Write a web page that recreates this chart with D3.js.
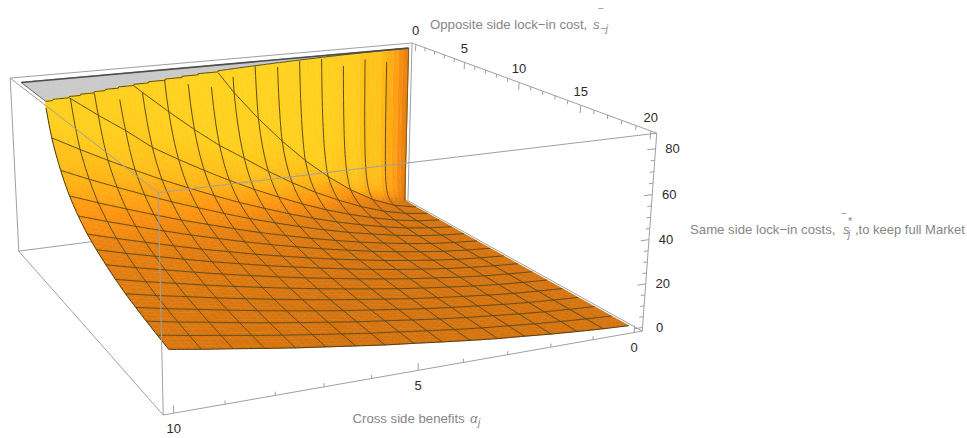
<!DOCTYPE html>
<html>
<head>
<meta charset="utf-8">
<style>
  html, body { margin: 0; background: #fff; }
  text { font-family: "Liberation Sans", sans-serif; }
</style>
<script src="https://cdn.jsdelivr.net/npm/d3@7"></script>
</head>
<body>
<div class="canvas"></div>
<script>
// values
const alphaValues = d3.range(17).map(k => k * 0.625);
const alphaTicks = d3.range(0, 11);
const lockTicks = d3.range(0, 21);
const zTicks = d3.range(0, 85, 5);
const meshAlpha = alphaValues.slice(1, 16);
const meshLock = d3.range(1, 16).map(k => k * 1.25);
const zClip = 85;

// rows of the surface: one per opposite side lock-in cost, one column per alpha
const lockRows = [1.25, 2.5, 3.75, 5, 7.5, 10, 15, 20];
const zRow125 = [0, 2.5, 7.4, 14.4, 23.1, 33.3, 45.1, 58.3, 73, 90, 106, 124, 143, 164, 186, 209, 233];
const zRow250 = [0, 1.6, 4.5, 8.6, 13.7, 19.5, 26.2, 33.7, 42, 50, 59.5, 69.8, 80.6, 92, 104, 117, 130];
const zRow375 = [0, 1.2, 3.3, 6.2, 9.7, 13.7, 18.4, 23.6, 29.2, 35.3, 41.9, 48.9, 56.3, 66, 74.7, 84, 93];
const zRow500 = [0, 1.1, 2.7, 5, 7.8, 10.9, 14.5, 18.5, 22.9, 27.5, 32.6, 38, 43.6, 49.7, 56, 62.6, 69.5];
const zRow750 = [0, 0.9, 2.1, 3.8, 5.8, 8, 10.6, 13.4, 16.5, 19.7, 23.3, 27.1, 30.9, 35.1, 39.5, 44, 48.8];
const zRow1000 = [0, 0.8, 1.8, 3.2, 4.8, 6.6, 8.7, 10.9, 13.3, 15.9, 18.6, 21.6, 24.6, 27.9, 31.3, 34.8, 38.5];
const zRow1500 = [0, 0.7, 1.5, 2.6, 3.9, 5.2, 6.7, 8.4, 10.2, 12, 14, 16.1, 18.3, 20.6, 23.1, 25.5, 28.2];
const zRow2000 = [0, 0.6, 1.4, 2.3, 3.4, 4.4, 5.7, 7.1, 8.6, 10, 11.7, 13.4, 15.1, 17, 19, 20.9, 23];
const zGrid = [zRow125, zRow250, zRow375, zRow500, zRow750, zRow1000, zRow1500, zRow2000];

// box scales, Mathematica style 2% padding
const xScale = d3.scaleLinear().domain([-0.2, 10.2]).range([0, 1]);
const yScale = d3.scaleLinear().domain([-0.4, 20.4]).range([0, 1]);
const zScale = d3.scaleLinear().domain([-1.7, 86.7]).range([0, 1]);

// camera calibration: where the box corners land on the page [x, y, z, px, py]
const cameraAnchors = [
  [0, 0, 0, 407, 201], [0, 0, 1, 413, 43],
  [0, 1, 0, 643, 331], [0, 1, 1, 656, 133],
  [1, 0, 0, 19, 251], [1, 0, 1, 10, 78],
  [1, 1, 0, 163.5, 415], [1, 1, 1, 158, 193]
];

// least squares for the 3x4 projective camera
const solveCamera = (anchors) => {
  const rows = [];
  anchors.forEach(([x, y, z, u, v]) => {
    rows.push([x, y, z, 1, 0, 0, 0, 0, -u * x, -u * y, -u * z, u]);
    rows.push([0, 0, 0, 0, x, y, z, 1, -v * x, -v * y, -v * z, v]);
  });
  const n = 11;
  const m = d3.range(n).map(i => d3.range(n + 1).map(j => d3.sum(rows, r => r[i] * r[j === n ? 11 : j])));
  for (let i = 0; i < n; i++) {
    let best = i;
    for (let r = i + 1; r < n; r++) if (Math.abs(m[r][i]) > Math.abs(m[best][i])) best = r;
    [m[i], m[best]] = [m[best], m[i]];
    for (let r = 0; r < n; r++) {
      if (r === i) continue;
      const f = m[r][i] / m[i][i];
      for (let c = i; c <= n; c++) m[r][c] -= f * m[i][c];
    }
  }
  return d3.range(n).map(i => m[i][n] / m[i][i]);
};
const cam = solveCamera(cameraAnchors);

const project = (a, s, z) => {
  const x = xScale(a), y = yScale(s), w = zScale(z);
  const d = cam[8] * x + cam[9] * y + cam[10] * w + 1;
  return [
    (cam[0] * x + cam[1] * y + cam[2] * w + cam[3]) / d,
    (cam[4] * x + cam[5] * y + cam[6] * w + cam[7]) / d
  ];
};

// reading the table: reciprocal is close to straight along the lock-in cost
const columnZ = (i, s) => {
  if (i === 0) return 0;
  if (s <= 0) return 1e5;
  if (s <= lockRows[0]) return zGrid[0][i] * lockRows[0] / s;
  const r = Math.min(d3.bisectRight(lockRows, s) - 1, lockRows.length - 2);
  const t = (s - lockRows[r]) / (lockRows[r + 1] - lockRows[r]);
  return 1 / ((1 - t) / zGrid[r][i] + t / zGrid[r + 1][i]);
};
const surfaceZ = (a, s) => {
  const k = a / 0.625;
  const i = Math.min(Math.floor(k), 15);
  const t = k - i;
  return (1 - t) * columnZ(i, s) + t * columnZ(i + 1, s);
};

// sampling, packed towards the wall at the back
const aSamples = [...d3.range(0, 6).map(i => 0.625 * Math.pow(i / 6, 2))];
alphaValues.slice(1, 16).forEach(a => aSamples.push(a, a + 0.15625, a + 0.3125, a + 0.46875));
aSamples.push(10);
const sSamples = d3.range(0, 16).map(i => 1.25 * Math.pow(i / 16, 3));
d3.range(1, 16).forEach(k => d3.range(0, 4).forEach(i => sSamples.push(1.25 * (k + i / 4))));
sSamples.push(20);

const shade = d3.scaleLinear()
  .domain([-0.5, 0, 0.12, 0.25, 0.45, 0.7, 0.95])
  .range(['#c4620a', '#d5730e', '#e57f0f', '#ff9410', '#ffb817', '#ffce1e', '#ffd520'])
  .clamp(true);

// the wall gets darker towards alpha = 0, with the bands seen in the picture
const wallAlpha = [0, 0.2, 0.4, 0.625, 0.9, 1.25, 1.6, 1.875, 2.5, 3.75, 5];
const wallLight = [0.08, 0.2, 0.35, 0.42, 0.62, 0.56, 0.76, 0.7, 0.82, 0.92, 1];
const wallScale = d3.scaleLinear().domain(wallAlpha).range(wallLight).clamp(true);

const facetColor = (a, s) => {
  const e = 0.01;
  const za = (surfaceZ(Math.min(a + e, 10), s) - surfaceZ(Math.max(a - e, 0), s)) / (2 * e) * 0.047;
  const zs = (surfaceZ(a, s + e) - surfaceZ(a, Math.max(s - e, 1e-4))) / (2 * e) * 0.094;
  const len = Math.hypot(za, zs, 1);
  return shade((-zs + 0.3 * -za) / len * wallScale(a));
};

// split a facet at the clipping plane
const clipFacet = (pts, keepBelow) => {
  const out = [];
  pts.forEach((p, i) => {
    const q = pts[(i + 1) % pts.length];
    const pIn = keepBelow ? p.z <= zClip : p.z > zClip;
    const qIn = keepBelow ? q.z <= zClip : q.z > zClip;
    if (pIn) out.push(p);
    if (pIn !== qIn) {
      const t = (zClip - p.z) / (q.z - p.z);
      out.push({a: p.a + t * (q.a - p.a), s: p.s + t * (q.s - p.s), z: zClip});
    }
  });
  return out;
};

const facets = [];
for (let j = 0; j < sSamples.length - 1; j++) {
  for (let i = 0; i < aSamples.length - 1; i++) {
    const corners = [[i, j], [i + 1, j], [i + 1, j + 1], [i, j + 1]].map(([p, q]) => ({
      a: aSamples[p], s: sSamples[q], z: surfaceZ(aSamples[p], sSamples[q])
    }));
    const capPart = clipFacet(corners, false);
    if (capPart.length > 2) facets.push({pts: capPart.map(p => ({...p, z: zClip})), fill: '#c9c9c9'});
    const lowPart = clipFacet(corners, true);
    if (lowPart.length > 2) {
      const am = (aSamples[i] + aSamples[i + 1]) / 2;
      const sm = (sSamples[j] + sSamples[j + 1]) / 2;
      facets.push({pts: lowPart, fill: facetColor(am, sm)});
    }
  }
}

const svg = d3.select('.canvas')
  .append('svg')
    .attr('width', 967)
    .attr('height', 438)
    .style('display', 'block');

const path = d3.line();
const boxColor = '#a0a0a0';

const boxEdge = (g, from, to) => g.append('path')
  .attr('d', path([project(...from), project(...to)]))
  .attr('fill', 'none')
  .attr('stroke', boxColor)
  .attr('stroke-width', 1);

const [a0, a1] = xScale.domain();
const [s0, s1] = yScale.domain();
const [z0, z1] = zScale.domain();

// box edges behind the surface
const backBox = svg.append('g');
[
  [[a0, s0, z0], [a0, s0, z1]], [[a1, s0, z0], [a1, s0, z1]], [[a0, s1, z0], [a0, s1, z1]],
  [[a0, s0, z1], [a1, s0, z1]], [[a0, s0, z0], [a1, s0, z0]],
  [[a0, s0, z1], [a0, s1, z1]], [[a0, s0, z0], [a0, s1, z0]],
  [[a1, s0, z0], [a1, s1, z0]], [[a0, s1, z0], [a1, s1, z0]]
].forEach(([from, to]) => boxEdge(backBox, from, to));

// surface
svg.append('g').selectAll('path')
  .data(facets)
  .join('path')
    .attr('d', d => path(d.pts.map(p => project(p.a, p.s, p.z))) + 'Z')
    .attr('fill', d => d.fill)
    .attr('stroke', d => d.fill)
    .attr('stroke-width', 0.5);

// mesh lines, only where the surface is under the clip
const meshGroup = svg.append('g').attr('fill', 'none');
const drawCurve = (points, color, width) => {
  meshGroup.append('path')
    .attr('d', path(points.filter(p => p[2] <= zClip).map(p => project(...p))))
    .attr('stroke', color)
    .attr('stroke-width', width);
};
const fineLock = [...d3.range(0, 60).map(i => 1.25 * Math.pow(i / 60, 3)), ...d3.range(1.25, 20.01, 0.25)];
const fineAlpha = d3.range(0, 10.01, 0.05);
meshAlpha.forEach(a => drawCurve(fineLock.map(s => [a, s, surfaceZ(a, s)]), '#5e4a1c', 1));
meshLock.forEach(s => drawCurve(fineAlpha.map(a => [a, s, surfaceZ(a, s)]), '#5e4a1c', 1));

// boundary of the surface and of the clipped cap
drawCurve(fineLock.map(s => [10, s, surfaceZ(10, s)]), '#4a3a14', 1);
drawCurve(fineAlpha.map(a => [a, 20, surfaceZ(a, 20)]), '#4a3a14', 1);
drawCurve([[0, 0, 0], [0, 0, zClip]], '#8a5a14', 1);
const clipLock = (a) => {
  const lockHi = d3.bisector(s => -surfaceZ(a, s)).left(fineLock.slice(1), -zClip);
  return fineLock[lockHi + 1];
};
const capEdge = fineAlpha.slice(1).map(a => [a, clipLock(a), zClip]);
drawCurve(capEdge, '#4a4a3a', 1);
drawCurve([[0, 0, zClip], [10, 0, zClip]], '#4d4d4d', 1.6);
drawCurve([[10, 0, zClip], [10, clipLock(10), zClip]], '#6e6e6e', 1);

// box edges in front of the surface
const frontBox = svg.append('g');
[
  [[a1, s1, z0], [a1, s1, z1]],
  [[a0, s1, z1], [a1, s1, z1]],
  [[a1, s0, z1], [a1, s1, z1]]
].forEach(([from, to]) => boxEdge(frontBox, from, to));

// axes, ticks run along the given box direction
const tickGroup = svg.append('g').attr('fill', 'none').attr('stroke', boxColor);
const labelGroup = svg.append('g')
  .attr('font-size', 13)
  .attr('fill', '#2b2b2b')
  .attr('text-anchor', 'middle');

const drawAxis = (ticks, isMajor, place, tickEnd, labelOffset) => {
  ticks.forEach(v => {
    const major = isMajor(v);
    const from = project(...place(v));
    const to = project(...tickEnd(v, major ? 1 : 0.5));
    tickGroup.append('path').attr('d', path([from, to]));
    if (major) {
      labelGroup.append('text')
        .attr('x', from[0] + labelOffset[0])
        .attr('y', from[1] + labelOffset[1])
        .attr('dy', '0.35em')
        .text(v);
    }
  });
};

drawAxis(alphaTicks, v => v % 5 === 0,
  v => [v, s1, z0], (v, f) => [v, s1, z0 + 3.2 * f], [0, 15]);
drawAxis(lockTicks, v => v % 5 === 0,
  v => [a0, v, z1], (v, f) => [a0, v, z1 - 3.6 * f], [0, -14]);
drawAxis(zTicks, v => v % 20 === 0,
  v => [a0, s1, v], (v, f) => [a0 + 0.2 * f, s1, v], [17, 0]);

// axis titles
const titleGroup = svg.append('g').attr('fill', '#868686');
const mathText = (x, y, t, size, italic) => titleGroup.append('text')
  .attr('x', x).attr('y', y)
  .attr('font-size', size)
  .attr('font-style', italic ? 'italic' : 'normal')
  .text(t);

mathText(430, 29, 'Opposite side lock\u2212in cost,', 13.2);
mathText(593, 29, 's', 13.2, true);
mathText(600, 32, '\u2212j', 10, true);
mathText(598, 12, '\u2212', 10);

mathText(690, 234, 'Same side lock\u2212in costs,', 13.2);
mathText(843, 234, 's', 13.2, true);
mathText(848, 238, 'j', 10, true);
mathText(841, 217, '\u2212', 10);
mathText(848, 225, '*', 11);
mathText(855, 234, ',to keep full Market', 13);

mathText(352.5, 423, 'Cross side benefits', 13.2);
mathText(470, 423, '\u03b1', 13.2, true);
mathText(478, 426, 'j', 10, true);
</script>
</body>
</html>
